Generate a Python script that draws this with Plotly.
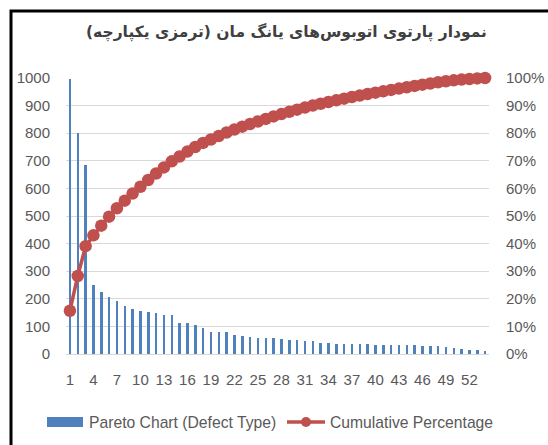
import numpy as np
import plotly.graph_objects as go

categories = list(range(1, 55))
defect_counts = [995, 800, 685, 249, 224, 207, 192, 175, 164, 157,
                 154, 150, 140, 140, 112, 112, 105, 94, 80, 80,
                 80, 69, 65, 62, 58, 58, 58, 54, 51, 51,
                 47, 47, 41, 41, 38, 38, 38, 35, 35, 31,
                 31, 31, 31, 31, 31, 28, 28, 28, 24, 21,
                 17, 13, 13, 10]
x_tick_labels = [str(v) for v in range(1, 53, 3)]
title_text = "نمودار پارتوی اتوبوس\u200cهای یانگ مان (ترمزی یکپارچه)\u200f"
bar_name = "Pareto Chart (Defect Type)"
line_name = "Cumulative Percentage"

cum_pct = np.cumsum(defect_counts) / np.sum(defect_counts)

W, H = 548, 445
L, R, T, B = 66, 489, 78, 354
def px(xp):
    return (xp - L) / (R - L)
def py(yp):
    return (B - yp) / (B - T)

BLUE = "#4F81BD"
RED = "#C0504D"
GRAY = "#595959"
FONT = "Liberation Sans, Arial, sans-serif"

fig = go.Figure()
fig.add_trace(go.Bar(x=categories, y=defect_counts, name=bar_name,
                     marker=dict(color=BLUE, line=dict(width=0)),
                     width=0.32, showlegend=False))
fig.add_trace(go.Scatter(x=categories, y=cum_pct, name=line_name, yaxis="y2",
                         mode="lines+markers",
                         line=dict(color=RED, width=3.5),
                         marker=dict(color=RED, size=12.5, line=dict(width=0)),
                         cliponaxis=False, showlegend=False))

shapes = [
    dict(type="rect", xref="paper", yref="paper",
         x0=px(11), x1=px(600), y0=py(500), y1=py(11),
         line=dict(color="black", width=3), fillcolor="rgba(0,0,0,0)", layer="above"),
    dict(type="rect", xref="paper", yref="paper",
         x0=px(47), x1=px(83), y0=py(427), y1=py(417),
         line=dict(width=0), fillcolor=BLUE),
    dict(type="line", xref="paper", yref="paper",
         x0=px(287), x1=px(325), y0=py(422), y1=py(422),
         line=dict(color=RED, width=3.5)),
    dict(type="circle", xref="paper", yref="paper",
         x0=px(301), x1=px(311), y0=py(427), y1=py(417),
         line=dict(width=0), fillcolor=RED),
]

annotations = [
    dict(text="<b>" + title_text + "</b>", xref="paper", yref="paper",
         x=px(286), y=py(33), xanchor="center", yanchor="middle", showarrow=False,
         font=dict(family="DejaVu Sans, Tahoma, sans-serif", size=15.5, color="#404040")),
    dict(text=bar_name, xref="paper", yref="paper", x=px(87), y=py(422),
         xanchor="left", yanchor="middle", showarrow=False,
         font=dict(family=FONT, size=15.7, color=GRAY)),
    dict(text=line_name, xref="paper", yref="paper", x=px(328), y=py(422),
         xanchor="left", yanchor="middle", showarrow=False,
         font=dict(family=FONT, size=15.7, color=GRAY)),
]

fig.update_layout(
    width=W, height=H,
    margin=dict(l=L, r=W - R, t=T, b=H - B, pad=0, autoexpand=False),
    paper_bgcolor="white", plot_bgcolor="white",
    bargap=0,
    shapes=shapes, annotations=annotations,
    xaxis=dict(range=[0.5, 54.5], tickmode="array", automargin=False,
               tickvals=list(range(1, 53, 3)), ticktext=x_tick_labels,
               showgrid=False, zeroline=False, showline=False, ticks="",
               ticklabelstandoff=15,
               tickfont=dict(family=FONT, size=15, color=GRAY)),
    yaxis=dict(range=[0, 1000], dtick=100, showgrid=True, gridcolor="#D9D9D9",
               automargin=False,
               gridwidth=1, zeroline=True, zerolinecolor="#D9D9D9", zerolinewidth=1,
               showline=False, ticks="", ticklabelstandoff=15,
               tickfont=dict(family=FONT, size=15, color=GRAY)),
    yaxis2=dict(range=[0, 1], dtick=0.1, tickformat=".0%", overlaying="y",
                automargin=False,
                side="right", showgrid=False, zeroline=False, showline=False,
                ticks="", ticklabelstandoff=16,
                tickfont=dict(family=FONT, size=15, color=GRAY)),
)

fig.write_html("out.html", config={"displayModeBar": False},
               post_script="document.body.style.margin='0';document.body.style.padding='0';")
